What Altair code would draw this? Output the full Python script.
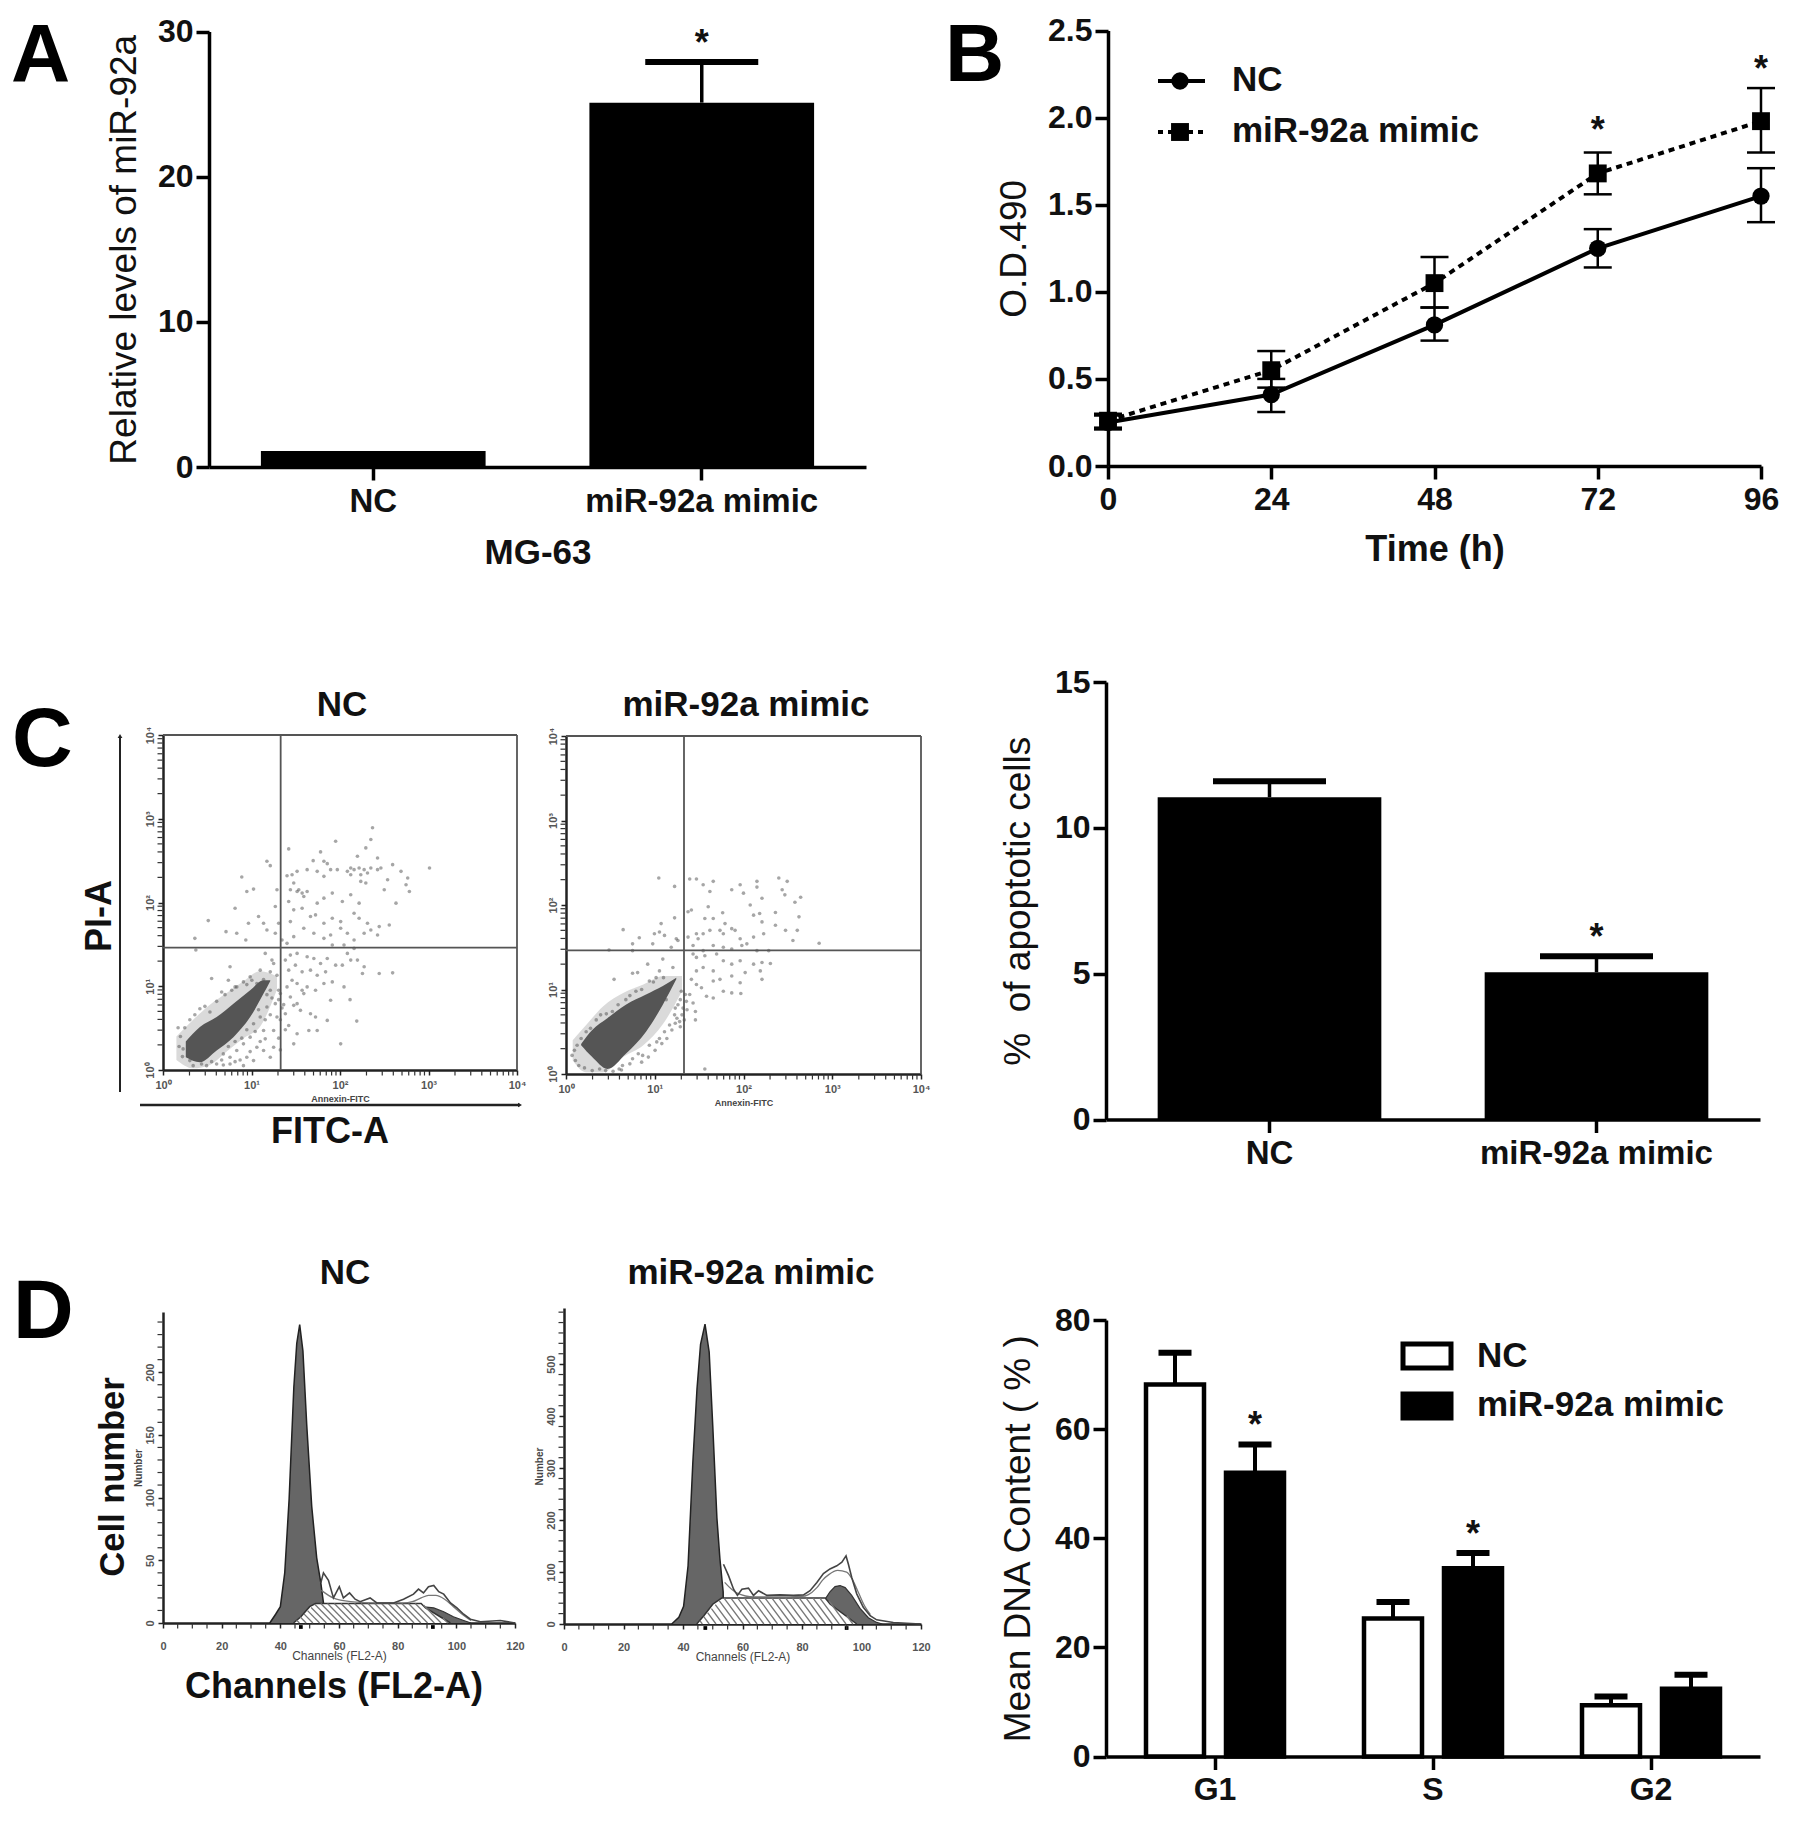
import altair as alt
import pandas as pd

FONT = "Liberation Sans"
INK = "#111111"

# ---------- panel A ----------
a_groups = ["NC", "miR-92a mimic"]
a_values = [1.1, 25.1]
a_tops = [1.1, 27.9]
a_star_group = ["miR-92a mimic"]
a_star_y = [29.7]

# ---------- panel B ----------
b_hours = [0, 24, 48, 72, 96]
b_nc = [0.25, 0.41, 0.81, 1.25, 1.55]
b_nc_lo = [0.21, 0.31, 0.72, 1.14, 1.40]
b_nc_hi = [0.29, 0.50, 0.91, 1.36, 1.71]
b_mimic = [0.26, 0.55, 1.05, 1.68, 1.98]
b_mimic_lo = [0.22, 0.45, 0.91, 1.56, 1.80]
b_mimic_hi = [0.30, 0.66, 1.20, 1.80, 2.17]
b_star_x = [72, 96]
b_star_y = [1.97, 2.32]

# ---------- panel C bars ----------
c_groups = ["NC", "miR-92a mimic"]
c_values = [11.05, 5.05]
c_tops = [11.6, 5.6]
c_star_group = ["miR-92a mimic"]
c_star_y = [6.5]

# ---------- panel D bars ----------
d_phase = ["G1", "G1", "S", "S", "G2", "G2"]
d_series = ["NC", "miR-92a mimic", "NC", "miR-92a mimic", "NC", "miR-92a mimic"]
d_values = [68.2, 52.0, 25.3, 34.5, 9.4, 12.4]
d_tops = [74.0, 57.2, 28.3, 37.3, 11.0, 15.0]
d_star_phase = ["G1", "S"]
d_star_series = ["miR-92a mimic", "miR-92a mimic"]
d_star_y = [62.0, 42.0]

# ---------- flow cytometry dot plots (log channel units, 264 per decade on x, 250 on y) ----------
nc_dots = [(600,598),(585,603),(570,598),(560,603),(610,588),(590,583),(620,603),(580,638),(605,663),(625,723),(620,688),(515,683),(470,651),(448,625),(480,623),(490,616),(375,660),(320,610),(310,623),(640,598),(650,603),(640,633),(670,568),(660,538),(695,498),(710,593),(730,573),(735,533),(725,553),(795,603),(685,613),(605,558),(590,563),(560,583),(550,593),(520,598),(500,598),(480,578),(460,593),(430,598),(400,593),(385,583),(370,580),(390,558),(405,538),(415,528),(430,533),(420,518),(400,533),(380,538),(375,503),(390,478),(415,483),(440,458),(455,463),(460,498),(480,513),(505,528),(535,503),(560,523),(585,498),(570,468),(530,443),(505,453),(480,438),(500,403),(530,423),(550,408),(585,453),(610,438),(620,418),(645,428),(675,433),(640,403),(600,408),(570,388),(540,373),(505,373),(480,393),(450,408),(420,423),(390,398),(370,378),(355,388),(345,438),(380,443),(335,488),(340,538),(250,533),(270,540),(235,576),(215,483),(135,446),(95,393),(188,413),(220,408),(247,388),(255,438),(285,458),(300,438),(310,418),(335,408),(98,358),(570,363),(550,348),(580,328),(600,308),(595,288),(685,290),(645,288),(560,328),(535,313),(515,313),(490,333),(470,318),(450,333),(430,338),(400,348),(380,343),(365,328),(375,298),(395,313),(415,293),(440,298),(460,283),(485,293),(505,263),(540,248),(480,258),(455,238),(430,248),(415,238),(400,258),(385,268),(370,248),(380,218),(390,193),(410,178),(440,168),(455,158),(490,148),(500,208),(558,210),(578,146),(530,78),(460,118),(435,118),(400,108),(390,78),(375,133),(365,168),(400,198),(420,228),(305,348),(325,328),(200,308),(145,273),(175,233),(220,248),(260,278),(290,298),(320,293),(340,283),(330,318),(350,228),(335,198),(340,158),(330,118),(310,188),(290,158),(300,118),(270,138),(260,98),(240,78),(250,38),(220,58),(200,38),(180,48),(160,18),(130,13),(90,13),(60,63),(45,126),(65,126),(110,183),(140,173),(195,268),(215,248),(240,263),(280,258),(345,238),(320,238),(305,93),(280,68),(300,58),(330,68),(270,28),(320,38),(200,18),(240,13),
           (345,210),(325,215),(310,225),(355,185),(320,165),(305,150),(285,180),(275,115),(250,120),(235,95),(215,85),(195,70),(175,30),(145,25),(115,18),(80,28),(58,40),(48,70),(52,100),(80,150),(95,165),(125,190),(160,205),(185,225),(205,238),(250,255),(265,268),(300,270),(360,195),(350,150),(365,120),(345,95),(350,60),(230,30),(215,25),(180,15),(260,55),(290,85)]
nc_core_x = [68, 110, 160, 210, 260, 300, 320]
nc_core_lo = [38, 23, 58, 98, 158, 228, 266]
nc_core_hi = [85, 128, 158, 198, 238, 268, 268]
nc_halo_x = [40, 90, 140, 190, 240, 290, 340]
nc_halo_lo = [30, 5, 15, 55, 95, 130, 240]
nc_halo_hi = [100, 150, 195, 230, 265, 295, 280]
nc_gate = (351, 365)

mimic_dots = [(276,580),(323,555),(368,577),(388,577),(408,560),(438,570),(428,540),(493,545),(518,560),(528,535),(568,570),(568,553),(583,520),(633,580),(658,570),(643,545),(651,530),(698,523),(681,508),(548,500),(623,478),(693,465),(576,475),(558,470),(466,477),(438,460),(413,460),(373,485),(363,480),(423,495),(323,462),(283,445),(170,427),(218,403),(263,415),(293,410),(328,400),(333,395),(278,420),(198,385),(258,385),(313,375),(388,415),(408,415),(393,400),(363,405),(378,380),(428,425),(458,425),(468,415),(493,430),(503,425),(473,445),(518,400),(538,385),(558,405),(588,415),(583,450),(623,440),(653,425),(688,425),(675,395),(753,387),(603,365),(568,365),(523,380),(493,370),(468,375),(438,380),(408,365),(378,355),(388,345),(413,350),(448,355),(468,335),(493,325),(518,335),(558,325),(583,330),(608,327),(533,300),(578,305),(583,280),(518,270),(493,240),(520,238),(468,245),(438,225),(418,230),(403,255),(373,280),(388,305),(408,315),(438,305),(458,280),(493,290),(438,275),(388,265),(368,235),(378,210),(385,185),(385,160),(413,15),(288,340),(243,325),(198,298),(213,300),(278,305),(318,315),(143,280),(268,285),(248,275),(198,365),(128,367),(343,245),(333,205),(323,175),(338,155),(308,145),(293,125),(278,105),(248,85),(228,55),(198,45),(168,25),(158,15),(118,10),(78,10),(38,25),(18,55),(33,85),(73,135),(103,175),(138,185),(178,220),(208,245),(298,220),(358,215),(348,195),
              (355,235),(340,220),(325,195),(330,165),(345,175),(315,130),(300,105),(285,90),(265,70),(245,50),(225,35),(190,30),(165,12),(140,8),(100,15),(55,18),(28,40),(25,70),(45,105),(60,125),(90,160),(120,178),(155,205),(190,232),(225,250),(260,272),(290,285),(360,190),(352,160),(340,140),(325,150),(270,95),(215,60)]
mimic_core_x = [45, 78, 123, 178, 238, 288, 328]
mimic_core_lo = [85, 50, 15, 60, 125, 205, 280]
mimic_core_hi = [89, 130, 165, 205, 235, 260, 285]
mimic_halo_x = [20, 60, 110, 170, 230, 290, 345]
mimic_halo_lo = [40, 5, 5, 50, 85, 150, 245]
mimic_halo_hi = [100, 145, 200, 240, 265, 290, 290]
mimic_gate = (351, 366)

log_x_major = [0, 264, 528, 792, 1056]
log_y_major = [0, 250, 500, 750, 1000]
log_x_minor = [79, 126, 159, 185, 205, 223, 239, 252, 343, 390, 423, 449, 469, 487, 503, 516, 607, 654, 687, 713, 733, 751, 767, 780, 871, 918, 951, 977, 997, 1015, 1031, 1044]
log_y_minor = [75, 119, 151, 175, 194, 211, 226, 239, 325, 369, 401, 425, 444, 461, 476, 489, 575, 619, 651, 675, 694, 711, 726, 739, 825, 869, 901, 925, 944, 961, 976, 989]

# ---------- DNA histograms (channel, count) ----------
nc_g1_ch = [36.4, 38.4, 40, 41.5, 43, 44.6, 45.6, 46.6, 47.7, 49, 50.7, 52.4, 53.8, 54.7, 54.9]
nc_g1_n = [0, 7, 13, 40, 99, 188, 223, 238, 217, 158, 93, 52, 32, 16, 0]
nc_s_ch = [44.5, 47, 50, 52, 88, 89.5, 98]
nc_s_n = [0, 5, 13, 15.5, 15.5, 12, 0]
nc_g2_ch = [88, 92.3, 95.7, 99, 102.5, 105]
nc_g2_n = [13, 12, 9, 5, 2, 0]
nc_raw_ch = [53.8, 54.7, 56.4, 58.1, 60.1, 61.5, 63.6, 65.5, 67.2, 70.6, 72.9, 78.6, 82, 85.4, 87.1, 88.8, 90.5, 92.3, 94, 95.7, 98, 100.2, 102.5, 104.8, 108.2, 115, 120]
nc_raw_n = [32, 40, 34, 20, 29, 20, 24, 19, 17, 20, 16, 16, 19, 23, 27, 24, 29, 30, 25, 23, 16, 12, 7, 3, 1, 2, 0]
nc_fit_ch = [54, 58, 64, 72, 82, 85, 88, 90.5, 93, 96, 99, 102, 105]
nc_fit_n = [26, 20, 17, 16, 16, 17, 20, 22, 22, 19, 13, 7, 2]
nc_y_major = [0, 50, 100, 150, 200]
nc_y_minor = [10, 20, 30, 40, 60, 70, 80, 90, 110, 120, 130, 140, 160, 170, 180, 190, 210, 220, 230, 240]

mimic_g1_ch = [36.2, 38.6, 40.2, 41.7, 43.3, 44.7, 45.9, 47.4, 48.8, 50, 51.4, 52.4, 53.5, 53.6]
mimic_g1_n = [0, 13, 34, 112, 310, 452, 538, 577, 523, 382, 204, 126, 62, 0]
mimic_s_ch = [44.6, 47, 50, 53, 87.8, 89.5, 98.4]
mimic_s_n = [0, 16, 38, 50, 50, 38, 0]
mimic_g2_ch = [87.8, 89.4, 91.1, 92.8, 94.5, 96.7, 99.5, 102.3, 105.1, 107]
mimic_g2_n = [48, 62, 72, 74, 70, 55, 30, 12, 3, 0]
mimic_raw_ch = [53.6, 55.3, 57, 58.3, 59.8, 62, 63.7, 65.4, 68.2, 72.6, 77.1, 80.5, 82.7, 85, 87.2, 89.4, 91.7, 93.4, 94.8, 95.6, 96.7, 98.4, 100.6, 102.9, 105.1, 110.7, 119.7]
mimic_raw_n = [115, 93, 67, 55, 67, 69, 55, 64, 55, 56, 55, 56, 64, 80, 97, 106, 112, 119, 131, 115, 90, 58, 32, 16, 8, 3, 0]
mimic_fit_ch = [54, 58, 64, 72, 80, 82, 85, 87, 89, 92, 95, 97, 99, 101, 103]
mimic_fit_n = [80, 60, 52, 52, 53, 56, 70, 85, 95, 103, 100, 85, 60, 35, 18]
mimic_y_major = [0, 100, 200, 300, 400, 500]
mimic_y_minor = [20, 40, 60, 80, 120, 140, 160, 180, 220, 240, 260, 280, 320, 340, 360, 380, 420, 440, 460, 480, 520, 540, 560, 580, 600]

hist_x_major = [0, 20, 40, 60, 80, 100, 120]
hist_x_minor = [5, 10, 15, 25, 30, 35, 45, 50, 55, 65, 70, 75, 85, 90, 95, 105, 110, 115]
nc_peak_marks = [47, 92]
mimic_peak_marks = [47.5, 95]
hatch_starts = [40, 42.3, 44.6, 46.9, 49.2, 51.5, 53.8, 56.1, 58.4, 60.7, 63, 65.3, 67.6, 69.9, 72.2, 74.5, 76.8, 79.1, 81.4, 83.7, 86, 88.3, 90.6]


def big_axis(**kw):
    base = dict(
        grid=False, domainColor="black", domainWidth=3.5, tickColor="black", tickWidth=3.5,
        tickSize=13, labelFont=FONT, labelFontSize=32, labelFontWeight="bold", labelColor=INK,
        labelPadding=3, labelAngle=0, labelOverlap=False, labelBound=False, labelFlush=False, labelLimit=600,
        titleFont=FONT, titleFontSize=37, titleFontWeight="normal", titleColor=INK, titleLimit=900,
    )
    base.update(kw)
    return alt.Axis(**base)


def tiny_axis(**kw):
    base = dict(
        grid=False, domainColor="#222222", domainWidth=2.5, tickColor="#222222", tickWidth=1.5,
        tickSize=5, labelFont=FONT, labelFontSize=11, labelFontWeight="bold", labelColor="#555555",
        labelPadding=3, labelAngle=0, labelOverlap=False, labelBound=False, labelFlush=False,
        titleFont=FONT, titleFontSize=11, titleFontWeight="bold", titleColor="#444444",
    )
    base.update(kw)
    return alt.Axis(**base)


def label(text, x, y, size=33, weight="bold", angle=None, align="center", baseline="middle", color=INK):
    kw = dict(font=FONT, fontSize=size, fontWeight=weight, align=align, baseline=baseline, color=color)
    if angle is not None:
        kw["angle"] = angle
    return alt.Chart(pd.DataFrame({"t": [text]})).mark_text(**kw).encode(
        x=alt.value(x), y=alt.value(y), text="t:N")


def letter(text, x, y, size=82):
    return label(text, x, y, size=size, weight="bold", align="left", baseline="alphabetic", color="#000000")


def sup_expr():
    return "'10' + ['⁰','¹','²','³','⁴'][indexof(['0','264','528','792','1056','250','500','750','1000'], '' + datum.value) < 5 ? indexof(['0','264','528','792','1056'], '' + datum.value) : indexof(['0','250','500','750','1000'], '' + datum.value)]"


def minor_ticks(x_vals, y_vals, x_base, y_base, size=5):
    tx = alt.Chart(pd.DataFrame({"v": x_vals})).mark_tick(color="#333333", orient="vertical", size=size, thickness=1.2, opacity=1, yOffset=3).encode(
        x="v:Q", y=alt.datum(y_base))
    ty = alt.Chart(pd.DataFrame({"v": y_vals})).mark_tick(color="#333333", orient="horizontal", size=size, thickness=1.2, opacity=1, xOffset=-3).encode(
        y="v:Q", x=alt.datum(x_base))
    return [tx, ty]


def two_bar(groups, values, tops, star_group, star_y, w, h, xl, xr, yb, yt, ydomain, yticks, ytitle, title_x, xtitle=None, xtitle_y=None, cap=113, pad=5):
    xs = alt.Scale(domain=groups, range=[xl, xr], paddingInner=0.316, paddingOuter=0.158)
    ys = alt.Scale(domain=ydomain, range=[yb, yt], nice=False)
    xaxis = dict(offset=yb - h, labelPadding=pad, labelFontSize=33)
    if xtitle:
        xaxis.update(titleFontSize=35, titleFontWeight="bold", titleY=xtitle_y)
    frame = pd.DataFrame({"g": groups, "v": values, "t": tops})
    up = frame[frame.t > frame.v]
    bars = alt.Chart(frame).mark_bar(color="black").encode(
        x=alt.X("g:N", scale=xs, sort=groups, title=xtitle, axis=big_axis(**xaxis)),
        y=alt.Y("v:Q", scale=ys, title=ytitle,
                axis=big_axis(values=yticks, offset=-xl, titleX=title_x)),
    )
    whisk = alt.Chart(up).mark_rule(color="black", strokeWidth=3.5).encode(
        x=alt.X("g:N", sort=groups), y="v:Q", y2="t:Q")
    caps = alt.Chart(up).mark_tick(color="black", size=cap, thickness=6, opacity=1).encode(
        x=alt.X("g:N", sort=groups), y="t:Q")
    stars = alt.Chart(pd.DataFrame({"g": star_group, "v": star_y, "s": ["*"] * len(star_group)})).mark_text(
        font=FONT, fontSize=36, fontWeight="bold", color=INK, dy=8).encode(
        x=alt.X("g:N", sort=groups), y="v:Q", text="s:N")
    return [bars, whisk, caps, stars]


# ---------- A ----------
W1, H1 = 890, 600
panel_a = alt.layer(
    *two_bar(a_groups, a_values, a_tops, a_star_group, a_star_y, W1, H1, 201, 858, 459, 23.5,
             [0, 30], [0, 10, 20, 30], "Relative levels of miR-92a", -66, "MG-63", 68),
    letter("A", 3, 73),
).properties(width=W1, height=H1)

# ---------- B ----------
W2 = 882
bx = alt.Scale(domain=[0, 96], range=[210, 863], nice=False)
by = alt.Scale(domain=[0, 2.5], range=[458, 22.6], nice=False)
b_nc_df = pd.DataFrame({"h": b_hours, "v": b_nc, "lo": b_nc_lo, "hi": b_nc_hi})
b_mi_df = pd.DataFrame({"h": b_hours, "v": b_mimic, "lo": b_mimic_lo, "hi": b_mimic_hi})
b_base = alt.Chart(b_nc_df).mark_line(color="black", strokeWidth=4).encode(
    x=alt.X("h:Q", scale=bx, title="Time (h)",
            axis=big_axis(values=b_hours, offset=458 - H1, titleY=66, titleFontSize=36, titleFontWeight="bold", labelPadding=5)),
    y=alt.Y("v:Q", scale=by, title="O.D.490",
            axis=big_axis(values=[0, 0.5, 1, 1.5, 2, 2.5], format=".1f", offset=-210, titleX=-75)),
)
b_layers = [b_base]
b_layers.append(alt.Chart(b_mi_df).mark_line(color="black", strokeWidth=4, strokeDash=[6, 5]).encode(x="h:Q", y="v:Q"))
for frame, shape, size in ((b_nc_df, "circle", 300), (b_mi_df, "square", 320)):
    b_layers.append(alt.Chart(frame).mark_rule(color="black", strokeWidth=2.5).encode(x="h:Q", y="lo:Q", y2="hi:Q"))
    b_layers.append(alt.Chart(frame).mark_tick(color="black", orient="horizontal", size=28, thickness=2.5, opacity=1).encode(x="h:Q", y="lo:Q"))
    b_layers.append(alt.Chart(frame).mark_tick(color="black", orient="horizontal", size=28, thickness=2.5, opacity=1).encode(x="h:Q", y="hi:Q"))
    b_layers.append(alt.Chart(frame).mark_point(color="black", filled=True, opacity=1, shape=shape, size=size).encode(x="h:Q", y="v:Q"))
b_layers.append(alt.Chart(pd.DataFrame({"h": b_star_x, "v": b_star_y, "s": ["*", "*"]})).mark_text(
    font=FONT, fontSize=36, fontWeight="bold", color=INK, dy=8).encode(x="h:Q", y="v:Q", text="s:N"))
b_legend = [
    alt.Chart(pd.DataFrame({"a": [0]})).mark_rule(color="black", strokeWidth=4).encode(x=alt.value(260), x2=alt.value(307), y=alt.value(73)),
    alt.Chart(pd.DataFrame({"a": [0]})).mark_rule(color="black", strokeWidth=4, strokeDash=[5, 5]).encode(x=alt.value(260), x2=alt.value(307), y=alt.value(124)),
    alt.Chart(pd.DataFrame({"a": [0]})).mark_point(color="black", filled=True, opacity=1, shape="circle", size=300).encode(x=alt.value(282), y=alt.value(73)),
    alt.Chart(pd.DataFrame({"a": [0]})).mark_point(color="black", filled=True, opacity=1, shape="square", size=320).encode(x=alt.value(282), y=alt.value(124)),
    label("NC", 334, 72, size=35, align="left"),
    label("miR-92a mimic", 334, 123, size=35, align="left"),
]
panel_b = alt.layer(*b_layers, *b_legend, letter("B", 47, 73)).properties(width=W2, height=H1)


# ---------- C dots ----------
def dot_panel(dots, core, halo, gate, w, h, xl, xr, yb, yt, title, tx, ty, extras=()):
    xs = alt.Scale(domain=[0, 1056], range=[xl, xr], nice=False)
    ys = alt.Scale(domain=[0, 1000], range=[yb, yt], nice=False)
    halo_df = pd.DataFrame({"x": halo[0], "lo": halo[1], "hi": halo[2]})
    core_df = pd.DataFrame({"x": core[0], "lo": core[1], "hi": core[2]})
    dots_df = pd.DataFrame(dots, columns=["x", "y"])
    back = alt.Chart(halo_df).mark_area(color="#6a6a6a", opacity=0.25, interpolate="monotone").encode(
        x=alt.X("x:Q", scale=xs, title="Annexin-FITC",
                axis=tiny_axis(values=log_x_major, labelExpr=sup_expr(), offset=yb - h, titleY=24, titleFontSize=9, labelPadding=4)),
        y=alt.Y("lo:Q", scale=ys, title=None,
                axis=tiny_axis(values=log_y_major, labelExpr=sup_expr(), offset=-xl, labelAngle=270, labelBaseline="bottom", labelAlign="center")),
        y2="hi:Q",
    )
    front = alt.Chart(core_df).mark_area(color="#555555", opacity=1, interpolate="monotone").encode(x="x:Q", y="lo:Q", y2="hi:Q")
    pts = alt.Chart(dots_df).mark_circle(color="#4d4d4d", opacity=0.5, size=13).encode(x="x:Q", y="y:Q")
    vert = alt.Chart(pd.DataFrame({"x": [gate[0], 1056]})).mark_rule(color="#555555", strokeWidth=1.8).encode(x="x:Q", y=alt.datum(0), y2=alt.datum(1000))
    horz = alt.Chart(pd.DataFrame({"y": [gate[1], 1000]})).mark_rule(color="#555555", strokeWidth=1.8).encode(y="y:Q", x=alt.datum(0), x2=alt.datum(1056))
    ticks = minor_ticks(log_x_minor, log_y_minor, 0, 0)
    return alt.layer(back, pts, front, vert, horz, *ticks, label(title, tx, ty, size=35), *extras).properties(width=w, height=h)


W3a, W3b, H2 = 537, 455, 580
c_extras = [
    label("PI-A", 92, 308, size=36, angle=270),
    label("FITC-A", 322, 524, size=36),
    alt.Chart(pd.DataFrame({"a": [0]})).mark_rule(color="#222222", strokeWidth=2).encode(x=alt.value(112), y=alt.value(128), y2=alt.value(484)),
    alt.Chart(pd.DataFrame({"a": [0]})).mark_point(color="#222222", filled=True, opacity=1, shape="triangle-up", size=22).encode(x=alt.value(112), y=alt.value(128)),
    alt.Chart(pd.DataFrame({"a": [0]})).mark_rule(color="#222222", strokeWidth=2.5).encode(x=alt.value(132), x2=alt.value(512), y=alt.value(497)),
    alt.Chart(pd.DataFrame({"a": [0]})).mark_point(color="#222222", filled=True, opacity=1, shape="triangle-right", size=22).encode(x=alt.value(512), y=alt.value(497)),
    letter("C", 4, 158, size=84),
]
panel_c1 = dot_panel(nc_dots, (nc_core_x, nc_core_lo, nc_core_hi), (nc_halo_x, nc_halo_lo, nc_halo_hi), nc_gate,
                     W3a, H2, 155, 509, 462, 127, "NC", 334, 97, c_extras)
panel_c2 = dot_panel(mimic_dots, (mimic_core_x, mimic_core_lo, mimic_core_hi), (mimic_halo_x, mimic_halo_lo, mimic_halo_hi), mimic_gate,
                     W3b, H2, 21, 376, 466, 128, "miR-92a mimic", 201, 97)

# ---------- C bars ----------
W4 = 780
panel_c3 = alt.layer(
    *two_bar(c_groups, c_values, c_tops, c_star_group, c_star_y, W4, H2, 106, 760, 511.5, 74,
             [0, 15], [0, 5, 10, 15], "%\u00a0\u00a0of apoptotic cells", -69, pad=5)
).properties(width=W4, height=H2)


# ---------- D histograms ----------
def hatch_lines(s_ch, level):
    left0, left1, right0, right1 = s_ch[0], s_ch[3], s_ch[4], s_ch[6]
    rows = []
    run = 6.5
    for x0 in hatch_starts:
        t = max(0, (left1 - x0) / (run + left1 - left0), (x0 - right0) / (right1 - right0 - run))
        if t < 1:
            rows.append({"x1": x0 + run * t, "n1": level * (1 - t), "x2": x0 + run, "n2": 0})
    return pd.DataFrame(rows)


def hist_panel(g1, s, g2, raw, fit, ymax, y_major, y_minor, marks, w, h, xl, xr, yb, yt, title, tx, ty, extras=()):
    xs = alt.Scale(domain=[0, 120], range=[xl, xr], nice=False)
    ys = alt.Scale(domain=[0, ymax], range=[yb, yt], nice=False)
    g1_df = pd.DataFrame({"c": g1[0], "n": g1[1]})
    s_df = pd.DataFrame({"c": s[0], "n": s[1]})
    g2_df = pd.DataFrame({"c": g2[0], "n": g2[1]})
    raw_df = pd.DataFrame({"c": raw[0], "n": raw[1]})
    fit_df = pd.DataFrame({"c": fit[0], "n": fit[1]})
    dark = alt.Chart(g1_df).mark_area(color="#666666", opacity=1, line={"color": "#222222", "strokeWidth": 1.5}).encode(
        x=alt.X("c:Q", scale=xs, title="Channels (FL2-A)",
                axis=tiny_axis(values=hist_x_major, offset=yb - h, titleY=27, titleFontSize=12, labelPadding=12, titleFontWeight="normal")),
        y=alt.Y("n:Q", scale=ys, title="Number",
                axis=tiny_axis(values=y_major, offset=-xl, labelAngle=270, labelBaseline="bottom",
                               labelAlign="center", titleX=-20, titleFontSize=10)),
    )
    second = alt.Chart(g2_df).mark_area(color="#666666", opacity=1, line={"color": "#333333", "strokeWidth": 1.2}).encode(x="c:Q", y="n:Q")
    plate = alt.Chart(s_df).mark_area(color="#ffffff", opacity=1, line={"color": "#333333", "strokeWidth": 1.5}).encode(x="c:Q", y="n:Q")
    hatch = alt.Chart(hatch_lines(s[0], s[1][3])).mark_rule(color="#777777", strokeWidth=1.3).encode(
        x="x1:Q", x2="x2:Q", y="n1:Q", y2="n2:Q")
    raw_line = alt.Chart(raw_df).mark_line(color="#444444", strokeWidth=1.6).encode(x="c:Q", y="n:Q")
    fit_line = alt.Chart(fit_df).mark_line(color="#777777", strokeWidth=1.3, interpolate="monotone").encode(x="c:Q", y="n:Q")
    peaks = alt.Chart(pd.DataFrame({"c": marks})).mark_square(color="black", size=14, opacity=1, yOffset=4).encode(x="c:Q", y=alt.datum(0))
    ticks = minor_ticks(hist_x_minor, y_minor, 0, 0)
    return alt.layer(dark, second, plate, hatch, fit_line, raw_line, peaks, *ticks, label(title, tx, ty, size=35), *extras).properties(width=w, height=h)


H3 = 615
d_extras = [
    label("Channels (FL2-A)", 326, 499, size=36),
    label("Cell number", 106, 289, size=34.5, angle=270),
    letter("D", 5, 150, size=84),
]
panel_d1 = hist_panel((nc_g1_ch, nc_g1_n), (nc_s_ch, nc_s_n), (nc_g2_ch, nc_g2_n), (nc_raw_ch, nc_raw_n), (nc_fit_ch, nc_fit_n),
                      248, nc_y_major, nc_y_minor, nc_peak_marks, W3a, H3, 155, 507, 435, 124, "NC", 337, 85, d_extras)
panel_d2 = hist_panel((mimic_g1_ch, mimic_g1_n), (mimic_s_ch, mimic_s_n), (mimic_g2_ch, mimic_g2_n), (mimic_raw_ch, mimic_raw_n), (mimic_fit_ch, mimic_fit_n),
                      608, mimic_y_major, mimic_y_minor, mimic_peak_marks, W3b, H3, 19, 376, 436, 120, "miR-92a mimic", 206, 85)

# ---------- D bars ----------
d_df = pd.DataFrame({"p": d_phase, "s": d_series, "v": d_values, "t": d_tops})
d_order = ["G1", "S", "G2"]
d_s_order = ["NC", "miR-92a mimic"]
dxs = alt.Scale(domain=d_order, range=[106, 760], paddingInner=0, paddingOuter=0)
dys = alt.Scale(domain=[0, 80], range=[568.5, 132], nice=False)
off = alt.Scale(domain=d_s_order, paddingInner=0.275, paddingOuter=0.5)
offset = alt.XOffset("s:N", scale=off, sort=d_s_order)
d_bars = alt.Chart(d_df).mark_bar(stroke="black", strokeWidth=4.5).encode(
    x=alt.X("p:N", scale=dxs, sort=d_order, title=None, axis=big_axis(offset=568.5 - H3, labelPadding=5)),
    xOffset=offset,
    y=alt.Y("v:Q", scale=dys, title="Mean DNA Content ( % )", axis=big_axis(values=[0, 20, 40, 60, 80], offset=-106, titleX=-69)),
    fill=alt.Fill("s:N", scale=alt.Scale(domain=d_s_order, range=["white", "black"]), legend=None),
)
d_whisk = alt.Chart(d_df).mark_rule(color="black", strokeWidth=4).encode(
    x=alt.X("p:N", sort=d_order), xOffset=offset, y="v:Q", y2="t:Q")
d_caps = alt.Chart(d_df).mark_tick(color="black", size=33, thickness=6, opacity=1).encode(
    x=alt.X("p:N", sort=d_order), xOffset=offset, y="t:Q")
d_stars = alt.Chart(pd.DataFrame({"p": d_star_phase, "s": d_star_series, "v": d_star_y, "a": ["*", "*"]})).mark_text(
    font=FONT, fontSize=36, fontWeight="bold", color=INK, dy=8).encode(
    x=alt.X("p:N", sort=d_order), xOffset=offset, y="v:Q", text="a:N")
d_legend = [
    alt.Chart(pd.DataFrame({"a": [0]})).mark_rect(fill="white", stroke="black", strokeWidth=5).encode(
        x=alt.value(403), x2=alt.value(451), y=alt.value(156), y2=alt.value(180)),
    alt.Chart(pd.DataFrame({"a": [0]})).mark_rect(fill="black", stroke="black", strokeWidth=5).encode(
        x=alt.value(403), x2=alt.value(451), y=alt.value(206), y2=alt.value(230)),
    label("NC", 477, 168, size=35, align="left"),
    label("miR-92a mimic", 477, 217, size=35, align="left"),
]
panel_d3 = alt.layer(d_bars, d_whisk, d_caps, d_stars, *d_legend).properties(width=W4, height=H3)

row1 = alt.hconcat(panel_a, panel_b, spacing=0, bounds="flush")
row2 = alt.hconcat(panel_c1, panel_c2, panel_c3, spacing=0, bounds="flush")
row3 = alt.hconcat(panel_d1, panel_d2, panel_d3, spacing=0, bounds="flush")
chart = alt.vconcat(row1, row2, row3, spacing=0, padding=0, background="white").configure_view(stroke=None)
chart.save("out.html", embed_options={"renderer": "svg", "actions": False})
